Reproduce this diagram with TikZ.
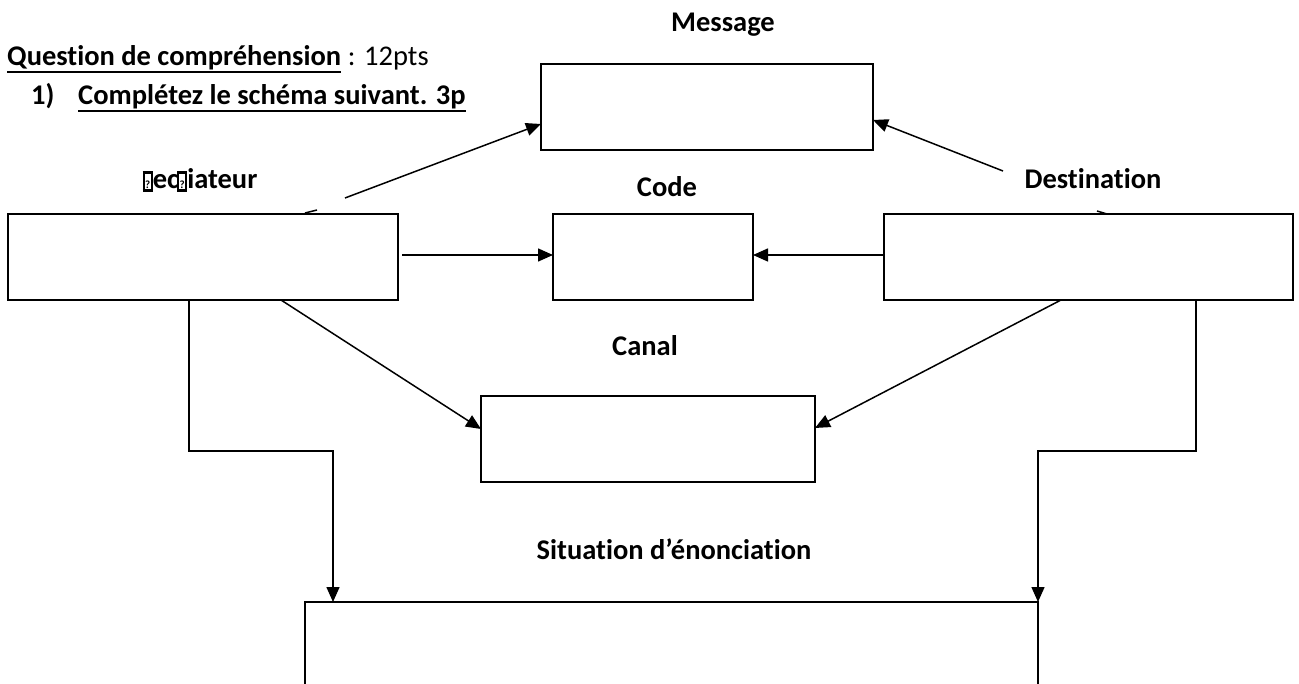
\documentclass[tikz,border=0pt]{standalone}
\usepackage{fontspec}
\setmainfont{Carlito}[Ligatures={NoCommon}]
\usetikzlibrary{arrows.meta}
\newcommand{\qglyph}{{\setlength{\fboxsep}{0.4pt}\setlength{\fboxrule}{2.2pt}\fbox{\makebox[5pt]{\rule{0pt}{15pt}\fontsize{11}{11}\selectfont ?}}}}
\tikzset{
  lbl/.style={font=\fontsize{28.5}{34}\selectfont\bfseries, inner sep=0pt, anchor=base},
  hdr/.style={font=\fontsize{28.5}{34}\selectfont, inner sep=0pt, anchor=base west},
  uline/.style={line width=1.6pt},
  blank/.style={draw, line width=1.6pt, inner sep=0pt, outer sep=0pt, fill=white},
  conn/.style={line width=1.5pt},
  arr/.style={line width=1.5pt, -{Triangle[length=15pt,width=13pt]}},
}
\begin{document}
\begin{tikzpicture}[x=1pt,y=-1pt]
\useasboundingbox[fill=white] (0,0) rectangle (1299,684);
% header
\node[hdr, font=\fontsize{28.5}{34}\selectfont\bfseries] (q1a) at (7,66) {Question de compréhension};
\node[hdr] (q1b) at (q1a.base east) {\ : 12pts};
\draw[uline] ([yshift=-6pt]q1a.base west) -- ([yshift=-6pt]q1a.base east);
\node[hdr, font=\fontsize{28.5}{34}\selectfont\bfseries] (q2a) at (31,105) {1)};
\node[hdr, font=\fontsize{28.5}{34}\selectfont\bfseries] (q2b) at (78,105) {Complétez le schéma suivant. 3p};
\draw[uline] ([yshift=-6pt]q2b.base west) -- ([yshift=-6pt]q2b.base east);
% boxes
\node[blank, minimum width=390pt, minimum height=86pt] (emet) at (203,257) {};
\node[blank, minimum width=200pt, minimum height=86pt] (code) at (653,257) {};
\node[blank, minimum width=409pt, minimum height=86pt] (dest) at (1088.5,257) {};
\node[blank, minimum width=332pt, minimum height=86pt] (msg) at (707,107) {};
\node[blank, minimum width=334pt, minimum height=86pt] (canal) at (648,439) {};
\node[blank, minimum width=733pt, minimum height=98pt] (sit) at (671.5,651) {};
% labels
\node[lbl] (lmsg) at (723,32) {Message};
\node[lbl] (lemet) at (200,189) {\qglyph ec\kern-2pt\qglyph iateur};
\node[lbl] (lcode) at (667,197) {Code};
\node[lbl] (ldest) at (1093,189) {Destination};
\node[lbl] (lcanal) at (645,356) {Canal};
\node[lbl] (lsit) at (674,559) {Situation d’énonciation};
% free ends
\coordinate (t1) at (345,198);
\coordinate (t2) at (1003,171);
\coordinate (s1a) at (305,213);
\coordinate (s1b) at (317,210);
\coordinate (s2a) at (1097,211);
\coordinate (s2b) at (1107,214);
% connectors
\draw[arr] (t1) -- ([yshift=-17pt]msg.west);
\draw[arr] (t2) -- ([yshift=-13pt]msg.east);
\draw[conn] (s1a) -- (s1b);
\draw[conn] (s2a) -- (s2b);
\draw[arr] ([xshift=4pt,yshift=2pt]emet.east) -- ([yshift=2pt]code.west);
\draw[arr] ([yshift=2pt]dest.west) -- ([yshift=2pt]code.east);
\draw[arr] ([xshift=78pt]emet.south) -- ([yshift=10pt]canal.west);
\draw[arr] ([xshift=-27.5pt]dest.south) -- ([yshift=11pt]canal.east);
\draw[arr] ([xshift=-14pt]emet.south) -- (189,451) -- (333,451) -- ([xshift=-338.5pt]sit.north);
\draw[arr] ([xshift=107.5pt]dest.south) -- (1196,451) -- (1038,451) -- (sit.north east);
\end{tikzpicture}
\end{document}
